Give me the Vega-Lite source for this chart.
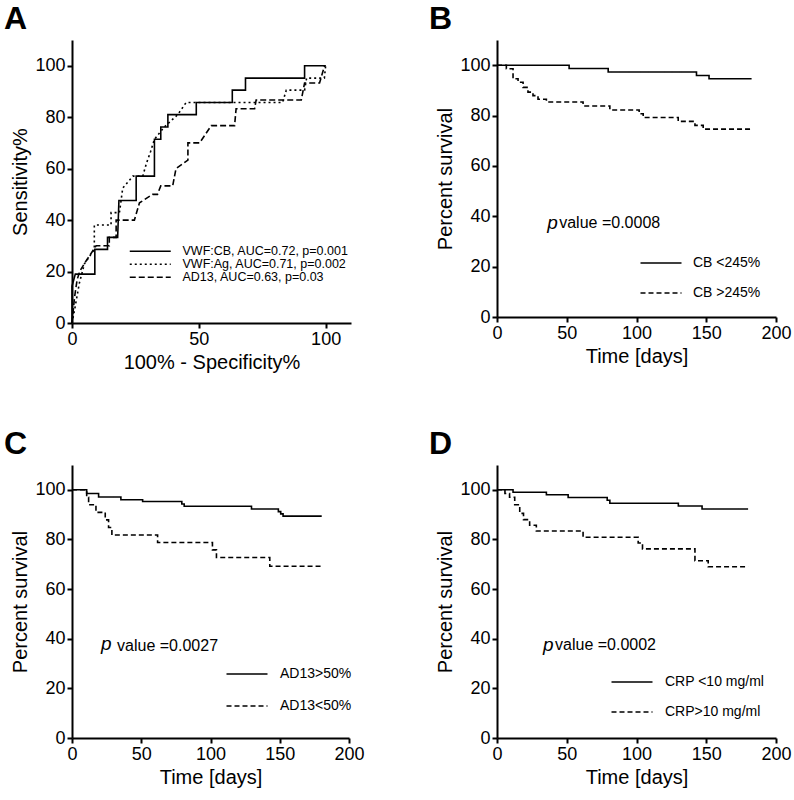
{
  "$schema": "https://vega.github.io/schema/vega-lite/v6.json",
  "padding": {"left": 4, "top": 3, "right": 5, "bottom": 5},
  "background": "white",
  "config": {
    "font": "Liberation Sans",
    "view": {"stroke": null},
    "axis": {"grid": false, "domainColor": "black", "domainWidth": 2, "tickColor": "black", "tickWidth": 2, "tickSize": 5,
      "labelFont": "Liberation Sans", "labelFontSize": 18, "labelColor": "black", "labelPadding": 2, "labelFlush": false, "labelOverlap": false,
      "titleFont": "Liberation Sans", "titleFontSize": 20, "titleFontWeight": "normal", "titleColor": "black"},
    "legend": {"title": null, "symbolType": "M-4.1,0H4.1", "symbolStrokeColor": "black", "symbolStrokeWidth": 1.5, "symbolSize": 100,
      "labelFont": "Liberation Sans", "labelColor": "black", "labelOffset": 26, "labelLimit": 400},
    "title": {"anchor": "start", "frame": "group", "fontSize": 32, "fontWeight": "bold", "color": "black", "font": "Liberation Sans", "dx": -68, "offset": 4}
  },
  "datasets": {
    "roc": [
      {"i": 1, "x": 0, "y": 0, "g": "VWF:CB, AUC=0.72, p=0.001"},
      {"i": 2, "x": 0, "y": 14.3, "g": "VWF:CB, AUC=0.72, p=0.001"},
      {"i": 3, "x": 1.3, "y": 19, "g": "VWF:CB, AUC=0.72, p=0.001"},
      {"i": 4, "x": 9, "y": 19, "g": "VWF:CB, AUC=0.72, p=0.001"},
      {"i": 5, "x": 9, "y": 28.6, "g": "VWF:CB, AUC=0.72, p=0.001"},
      {"i": 6, "x": 14, "y": 28.6, "g": "VWF:CB, AUC=0.72, p=0.001"},
      {"i": 7, "x": 14, "y": 33.3, "g": "VWF:CB, AUC=0.72, p=0.001"},
      {"i": 8, "x": 18, "y": 33.3, "g": "VWF:CB, AUC=0.72, p=0.001"},
      {"i": 9, "x": 18.5, "y": 47.6, "g": "VWF:CB, AUC=0.72, p=0.001"},
      {"i": 10, "x": 25.3, "y": 47.6, "g": "VWF:CB, AUC=0.72, p=0.001"},
      {"i": 11, "x": 25.3, "y": 57.1, "g": "VWF:CB, AUC=0.72, p=0.001"},
      {"i": 12, "x": 32.5, "y": 57.1, "g": "VWF:CB, AUC=0.72, p=0.001"},
      {"i": 13, "x": 32.5, "y": 71.4, "g": "VWF:CB, AUC=0.72, p=0.001"},
      {"i": 14, "x": 35, "y": 71.4, "g": "VWF:CB, AUC=0.72, p=0.001"},
      {"i": 15, "x": 35, "y": 76.2, "g": "VWF:CB, AUC=0.72, p=0.001"},
      {"i": 16, "x": 37.8, "y": 76.2, "g": "VWF:CB, AUC=0.72, p=0.001"},
      {"i": 17, "x": 37.8, "y": 81, "g": "VWF:CB, AUC=0.72, p=0.001"},
      {"i": 18, "x": 49, "y": 81, "g": "VWF:CB, AUC=0.72, p=0.001"},
      {"i": 19, "x": 49, "y": 85.7, "g": "VWF:CB, AUC=0.72, p=0.001"},
      {"i": 20, "x": 63.2, "y": 85.7, "g": "VWF:CB, AUC=0.72, p=0.001"},
      {"i": 21, "x": 63.2, "y": 90.5, "g": "VWF:CB, AUC=0.72, p=0.001"},
      {"i": 22, "x": 68.4, "y": 90.5, "g": "VWF:CB, AUC=0.72, p=0.001"},
      {"i": 23, "x": 68.4, "y": 95.2, "g": "VWF:CB, AUC=0.72, p=0.001"},
      {"i": 24, "x": 91.7, "y": 95.2, "g": "VWF:CB, AUC=0.72, p=0.001"},
      {"i": 25, "x": 91.7, "y": 100, "g": "VWF:CB, AUC=0.72, p=0.001"},
      {"i": 26, "x": 100, "y": 100, "g": "VWF:CB, AUC=0.72, p=0.001"},
      {"i": 1, "x": 0, "y": 0, "g": "VWF:Ag, AUC=0.71, p=0.002"},
      {"i": 2, "x": 1, "y": 5, "g": "VWF:Ag, AUC=0.71, p=0.002"},
      {"i": 3, "x": 2.9, "y": 15.5, "g": "VWF:Ag, AUC=0.71, p=0.002"},
      {"i": 4, "x": 4.9, "y": 23, "g": "VWF:Ag, AUC=0.71, p=0.002"},
      {"i": 5, "x": 8.8, "y": 28.6, "g": "VWF:Ag, AUC=0.71, p=0.002"},
      {"i": 6, "x": 8.8, "y": 38.1, "g": "VWF:Ag, AUC=0.71, p=0.002"},
      {"i": 7, "x": 15.4, "y": 38.1, "g": "VWF:Ag, AUC=0.71, p=0.002"},
      {"i": 8, "x": 15.4, "y": 42.9, "g": "VWF:Ag, AUC=0.71, p=0.002"},
      {"i": 9, "x": 18.7, "y": 42.9, "g": "VWF:Ag, AUC=0.71, p=0.002"},
      {"i": 10, "x": 20, "y": 52.4, "g": "VWF:Ag, AUC=0.71, p=0.002"},
      {"i": 11, "x": 24, "y": 57.1, "g": "VWF:Ag, AUC=0.71, p=0.002"},
      {"i": 12, "x": 27.9, "y": 57.1, "g": "VWF:Ag, AUC=0.71, p=0.002"},
      {"i": 13, "x": 29.3, "y": 61.9, "g": "VWF:Ag, AUC=0.71, p=0.002"},
      {"i": 14, "x": 31, "y": 66.7, "g": "VWF:Ag, AUC=0.71, p=0.002"},
      {"i": 15, "x": 32.5, "y": 71.4, "g": "VWF:Ag, AUC=0.71, p=0.002"},
      {"i": 16, "x": 36.4, "y": 76.2, "g": "VWF:Ag, AUC=0.71, p=0.002"},
      {"i": 17, "x": 41.7, "y": 81, "g": "VWF:Ag, AUC=0.71, p=0.002"},
      {"i": 18, "x": 45, "y": 85.7, "g": "VWF:Ag, AUC=0.71, p=0.002"},
      {"i": 19, "x": 83, "y": 85.7, "g": "VWF:Ag, AUC=0.71, p=0.002"},
      {"i": 20, "x": 84.5, "y": 90.5, "g": "VWF:Ag, AUC=0.71, p=0.002"},
      {"i": 21, "x": 91.7, "y": 90.5, "g": "VWF:Ag, AUC=0.71, p=0.002"},
      {"i": 22, "x": 92.5, "y": 95.2, "g": "VWF:Ag, AUC=0.71, p=0.002"},
      {"i": 23, "x": 99.5, "y": 95.2, "g": "VWF:Ag, AUC=0.71, p=0.002"},
      {"i": 24, "x": 100, "y": 100, "g": "VWF:Ag, AUC=0.71, p=0.002"},
      {"i": 1, "x": 0, "y": 0, "g": "AD13,  AUC=0.63, p=0.03"},
      {"i": 2, "x": 1, "y": 10, "g": "AD13,  AUC=0.63, p=0.03"},
      {"i": 3, "x": 2, "y": 16.7, "g": "AD13,  AUC=0.63, p=0.03"},
      {"i": 4, "x": 3, "y": 20, "g": "AD13,  AUC=0.63, p=0.03"},
      {"i": 5, "x": 5, "y": 23.3, "g": "AD13,  AUC=0.63, p=0.03"},
      {"i": 6, "x": 9.5, "y": 30, "g": "AD13,  AUC=0.63, p=0.03"},
      {"i": 7, "x": 14.7, "y": 30, "g": "AD13,  AUC=0.63, p=0.03"},
      {"i": 8, "x": 14.7, "y": 33.3, "g": "AD13,  AUC=0.63, p=0.03"},
      {"i": 9, "x": 17.4, "y": 33.3, "g": "AD13,  AUC=0.63, p=0.03"},
      {"i": 10, "x": 17.4, "y": 40, "g": "AD13,  AUC=0.63, p=0.03"},
      {"i": 11, "x": 24.6, "y": 40, "g": "AD13,  AUC=0.63, p=0.03"},
      {"i": 12, "x": 26.6, "y": 46.7, "g": "AD13,  AUC=0.63, p=0.03"},
      {"i": 13, "x": 31.8, "y": 50, "g": "AD13,  AUC=0.63, p=0.03"},
      {"i": 14, "x": 33.7, "y": 50, "g": "AD13,  AUC=0.63, p=0.03"},
      {"i": 15, "x": 35, "y": 53.3, "g": "AD13,  AUC=0.63, p=0.03"},
      {"i": 16, "x": 39.7, "y": 53.3, "g": "AD13,  AUC=0.63, p=0.03"},
      {"i": 17, "x": 41, "y": 60, "g": "AD13,  AUC=0.63, p=0.03"},
      {"i": 18, "x": 45.7, "y": 63.3, "g": "AD13,  AUC=0.63, p=0.03"},
      {"i": 19, "x": 45.7, "y": 70, "g": "AD13,  AUC=0.63, p=0.03"},
      {"i": 20, "x": 50.3, "y": 70, "g": "AD13,  AUC=0.63, p=0.03"},
      {"i": 21, "x": 54.9, "y": 76.7, "g": "AD13,  AUC=0.63, p=0.03"},
      {"i": 22, "x": 64.1, "y": 76.7, "g": "AD13,  AUC=0.63, p=0.03"},
      {"i": 23, "x": 64.7, "y": 83.3, "g": "AD13,  AUC=0.63, p=0.03"},
      {"i": 24, "x": 72, "y": 83.3, "g": "AD13,  AUC=0.63, p=0.03"},
      {"i": 25, "x": 72.6, "y": 86.7, "g": "AD13,  AUC=0.63, p=0.03"},
      {"i": 26, "x": 90.4, "y": 86.7, "g": "AD13,  AUC=0.63, p=0.03"},
      {"i": 27, "x": 91.7, "y": 93.3, "g": "AD13,  AUC=0.63, p=0.03"},
      {"i": 28, "x": 97.6, "y": 93.3, "g": "AD13,  AUC=0.63, p=0.03"},
      {"i": 29, "x": 99.6, "y": 100, "g": "AD13,  AUC=0.63, p=0.03"},
      {"i": 30, "x": 100, "y": 100, "g": "AD13,  AUC=0.63, p=0.03"}
    ],
    "kmB": [
      {"t": 0, "s": 100, "g": "CB <245%"},
      {"t": 51.7, "s": 98.7, "g": "CB <245%"},
      {"t": 79.7, "s": 97.3, "g": "CB <245%"},
      {"t": 143, "s": 95.9, "g": "CB <245%"},
      {"t": 152, "s": 94.6, "g": "CB <245%"},
      {"t": 182.5, "s": 94.6, "g": "CB <245%"},
      {"t": 0, "s": 100, "g": "CB >245%"},
      {"t": 6.7, "s": 98.6, "g": "CB >245%"},
      {"t": 11.5, "s": 94.6, "g": "CB >245%"},
      {"t": 15.1, "s": 93.2, "g": "CB >245%"},
      {"t": 18.7, "s": 91.2, "g": "CB >245%"},
      {"t": 22.2, "s": 89.3, "g": "CB >245%"},
      {"t": 25.8, "s": 87.9, "g": "CB >245%"},
      {"t": 29.4, "s": 86.5, "g": "CB >245%"},
      {"t": 35.4, "s": 85.4, "g": "CB >245%"},
      {"t": 61.7, "s": 83.8, "g": "CB >245%"},
      {"t": 80.9, "s": 82.2, "g": "CB >245%"},
      {"t": 101.9, "s": 80.7, "g": "CB >245%"},
      {"t": 104.8, "s": 79.2, "g": "CB >245%"},
      {"t": 129.9, "s": 77.7, "g": "CB >245%"},
      {"t": 141.9, "s": 76.1, "g": "CB >245%"},
      {"t": 147.8, "s": 74.6, "g": "CB >245%"},
      {"t": 182.5, "s": 74.6, "g": "CB >245%"}
    ],
    "kmC": [
      {"t": 0, "s": 100, "g": "AD13>50%"},
      {"t": 10.6, "s": 98.5, "g": "AD13>50%"},
      {"t": 19.2, "s": 97.1, "g": "AD13>50%"},
      {"t": 35.3, "s": 96, "g": "AD13>50%"},
      {"t": 51, "s": 95.3, "g": "AD13>50%"},
      {"t": 79.3, "s": 94.3, "g": "AD13>50%"},
      {"t": 81, "s": 93.4, "g": "AD13>50%"},
      {"t": 129.6, "s": 92.3, "g": "AD13>50%"},
      {"t": 149, "s": 91.2, "g": "AD13>50%"},
      {"t": 150.7, "s": 90.3, "g": "AD13>50%"},
      {"t": 152.4, "s": 89.4, "g": "AD13>50%"},
      {"t": 180.3, "s": 89.4, "g": "AD13>50%"},
      {"t": 0, "s": 100, "g": "AD13<50%"},
      {"t": 10.6, "s": 97, "g": "AD13<50%"},
      {"t": 12, "s": 94, "g": "AD13<50%"},
      {"t": 17.3, "s": 90.9, "g": "AD13<50%"},
      {"t": 24, "s": 87.9, "g": "AD13<50%"},
      {"t": 26.4, "s": 84.8, "g": "AD13<50%"},
      {"t": 28.8, "s": 81.8, "g": "AD13<50%"},
      {"t": 61.8, "s": 78.8, "g": "AD13<50%"},
      {"t": 101.4, "s": 75.8, "g": "AD13<50%"},
      {"t": 104.3, "s": 72.7, "g": "AD13<50%"},
      {"t": 142.8, "s": 69.2, "g": "AD13<50%"},
      {"t": 180.3, "s": 69.2, "g": "AD13<50%"}
    ],
    "kmD": [
      {"t": 0, "s": 100, "g": "CRP <10 mg/ml"},
      {"t": 11.5, "s": 99, "g": "CRP <10 mg/ml"},
      {"t": 35.4, "s": 98, "g": "CRP <10 mg/ml"},
      {"t": 51, "s": 96.9, "g": "CRP <10 mg/ml"},
      {"t": 79, "s": 95.8, "g": "CRP <10 mg/ml"},
      {"t": 80.9, "s": 94.6, "g": "CRP <10 mg/ml"},
      {"t": 130, "s": 93.5, "g": "CRP <10 mg/ml"},
      {"t": 147, "s": 92.3, "g": "CRP <10 mg/ml"},
      {"t": 180, "s": 92.3, "g": "CRP <10 mg/ml"},
      {"t": 0, "s": 100, "g": "CRP>10 mg/ml"},
      {"t": 5.7, "s": 98.5, "g": "CRP>10 mg/ml"},
      {"t": 9, "s": 97, "g": "CRP>10 mg/ml"},
      {"t": 12.7, "s": 94, "g": "CRP>10 mg/ml"},
      {"t": 16.3, "s": 90.5, "g": "CRP>10 mg/ml"},
      {"t": 19, "s": 88, "g": "CRP>10 mg/ml"},
      {"t": 23.4, "s": 85.7, "g": "CRP>10 mg/ml"},
      {"t": 28.2, "s": 83.4, "g": "CRP>10 mg/ml"},
      {"t": 61.7, "s": 80.9, "g": "CRP>10 mg/ml"},
      {"t": 101.2, "s": 78.6, "g": "CRP>10 mg/ml"},
      {"t": 104.3, "s": 76.2, "g": "CRP>10 mg/ml"},
      {"t": 141.9, "s": 71.4, "g": "CRP>10 mg/ml"},
      {"t": 151.4, "s": 69, "g": "CRP>10 mg/ml"},
      {"t": 180, "s": 69, "g": "CRP>10 mg/ml"}
    ],
    "pB": [{"t": 36, "s": 37.5, "p": "p", "v": "value =0.0008"}],
    "pC": [{"t": 21, "s": 38, "p": "p", "v": "value =0.0027"}],
    "pD": [{"t": 33, "s": 37.5, "p": "p", "v": "value =0.0002"}]
  },
  "columns": 2,
  "bounds": "flush",
  "spacing": {"row": 142, "column": 146},
  "resolve": {"scale": {"strokeDash": "independent", "x": "independent", "y": "independent"}, "legend": {"strokeDash": "independent"}},
  "concat": [
    {
      "title": "A",
      "width": 279, "height": 283,
      "data": {"name": "roc"},
      "mark": {"type": "line", "color": "black", "strokeWidth": 1.6, "interpolate": "linear"},
      "encoding": {
        "x": {"field": "x", "type": "quantitative", "scale": {"domain": [0, 110], "nice": false}, "axis": {"values": [0, 50, 100], "title": "100% - Specificity%"}},
        "y": {"field": "y", "type": "quantitative", "scale": {"domain": [0, 110], "nice": false}, "axis": {"values": [0, 20, 40, 60, 80, 100], "title": "Sensitivity%"}},
        "order": {"field": "i", "type": "quantitative"},
        "strokeDash": {"field": "g", "type": "nominal",
          "scale": {"domain": ["VWF:CB, AUC=0.72, p=0.001", "VWF:Ag, AUC=0.71, p=0.002", "AD13,  AUC=0.63, p=0.03"], "range": [[1, 0], [2, 3], [6, 3]]},
          "legend": {"orient": "none", "legendX": 72, "legendY": 205, "labelFontSize": 12.5, "rowPadding": 0, "labelOffset": 26}}
      }
    },
    {
      "title": "B",
      "width": 279, "height": 277,
      "layer": [
        {
          "data": {"name": "kmB"},
          "mark": {"type": "line", "color": "black", "strokeWidth": 1.6, "interpolate": "step-after"},
          "encoding": {
            "x": {"field": "t", "type": "quantitative", "scale": {"domain": [0, 200], "nice": false}, "axis": {"values": [0, 50, 100, 150, 200], "title": "Time [days]"}},
            "y": {"field": "s", "type": "quantitative", "scale": {"domain": [0, 110], "nice": false}, "axis": {"values": [0, 20, 40, 60, 80, 100], "title": "Percent survival"}},
            "strokeDash": {"field": "g", "type": "nominal", "scale": {"domain": ["CB <245%", "CB >245%"], "range": [[1, 0], [5, 3]]},
              "legend": {"orient": "none", "legendX": 157, "legendY": 216, "labelFontSize": 14, "rowPadding": 16, "labelOffset": 25}}
          }
        },
        {
          "data": {"name": "pB"},
          "mark": {"type": "text", "font": "Liberation Sans", "fontSize": 19, "fontStyle": "italic", "align": "left", "baseline": "middle", "color": "black"},
          "encoding": {"x": {"field": "t", "type": "quantitative"}, "y": {"field": "s", "type": "quantitative"}, "text": {"field": "p"}}
        },
        {
          "data": {"name": "pB"},
          "mark": {"type": "text", "font": "Liberation Sans", "fontSize": 16, "align": "left", "baseline": "middle", "dx": 12, "color": "black"},
          "encoding": {"x": {"field": "t", "type": "quantitative"}, "y": {"field": "s", "type": "quantitative"}, "text": {"field": "v"}}
        }
      ]
    },
    {
      "title": "C",
      "width": 277, "height": 273,
      "layer": [
        {
          "data": {"name": "kmC"},
          "mark": {"type": "line", "color": "black", "strokeWidth": 1.6, "interpolate": "step-after"},
          "encoding": {
            "x": {"field": "t", "type": "quantitative", "scale": {"domain": [0, 200], "nice": false}, "axis": {"values": [0, 50, 100, 150, 200], "title": "Time [days]"}},
            "y": {"field": "s", "type": "quantitative", "scale": {"domain": [0, 110], "nice": false}, "axis": {"values": [0, 20, 40, 60, 80, 100], "title": "Percent survival"}},
            "strokeDash": {"field": "g", "type": "nominal", "scale": {"domain": ["AD13>50%", "AD13<50%"], "range": [[1, 0], [5, 3]]},
              "legend": {"orient": "none", "legendX": 168, "legendY": 202, "labelFontSize": 14, "rowPadding": 18, "labelOffset": 26}}
          }
        },
        {
          "data": {"name": "pC"},
          "mark": {"type": "text", "font": "Liberation Sans", "fontSize": 19, "fontStyle": "italic", "align": "left", "baseline": "middle", "color": "black"},
          "encoding": {"x": {"field": "t", "type": "quantitative"}, "y": {"field": "s", "type": "quantitative"}, "text": {"field": "p"}}
        },
        {
          "data": {"name": "pC"},
          "mark": {"type": "text", "font": "Liberation Sans", "fontSize": 16, "align": "left", "baseline": "middle", "dx": 16, "dy": 2, "color": "black"},
          "encoding": {"x": {"field": "t", "type": "quantitative"}, "y": {"field": "s", "type": "quantitative"}, "text": {"field": "v"}}
        }
      ]
    },
    {
      "title": "D",
      "width": 279, "height": 273,
      "layer": [
        {
          "data": {"name": "kmD"},
          "mark": {"type": "line", "color": "black", "strokeWidth": 1.6, "interpolate": "step-after"},
          "encoding": {
            "x": {"field": "t", "type": "quantitative", "scale": {"domain": [0, 200], "nice": false}, "axis": {"values": [0, 50, 100, 150, 200], "title": "Time [days]"}},
            "y": {"field": "s", "type": "quantitative", "scale": {"domain": [0, 110], "nice": false}, "axis": {"values": [0, 20, 40, 60, 80, 100], "title": "Percent survival"}},
            "strokeDash": {"field": "g", "type": "nominal", "scale": {"domain": ["CRP <10 mg/ml", "CRP>10 mg/ml"], "range": [[1, 0], [5, 3]]},
              "legend": {"orient": "none", "legendX": 128, "legendY": 210, "labelFontSize": 14, "rowPadding": 16, "labelOffset": 26}}
          }
        },
        {
          "data": {"name": "pD"},
          "mark": {"type": "text", "font": "Liberation Sans", "fontSize": 19, "fontStyle": "italic", "align": "left", "baseline": "middle", "color": "black"},
          "encoding": {"x": {"field": "t", "type": "quantitative"}, "y": {"field": "s", "type": "quantitative"}, "text": {"field": "p"}}
        },
        {
          "data": {"name": "pD"},
          "mark": {"type": "text", "font": "Liberation Sans", "fontSize": 16, "align": "left", "baseline": "middle", "dx": 12, "color": "black"},
          "encoding": {"x": {"field": "t", "type": "quantitative"}, "y": {"field": "s", "type": "quantitative"}, "text": {"field": "v"}}
        }
      ]
    }
  ]
}
